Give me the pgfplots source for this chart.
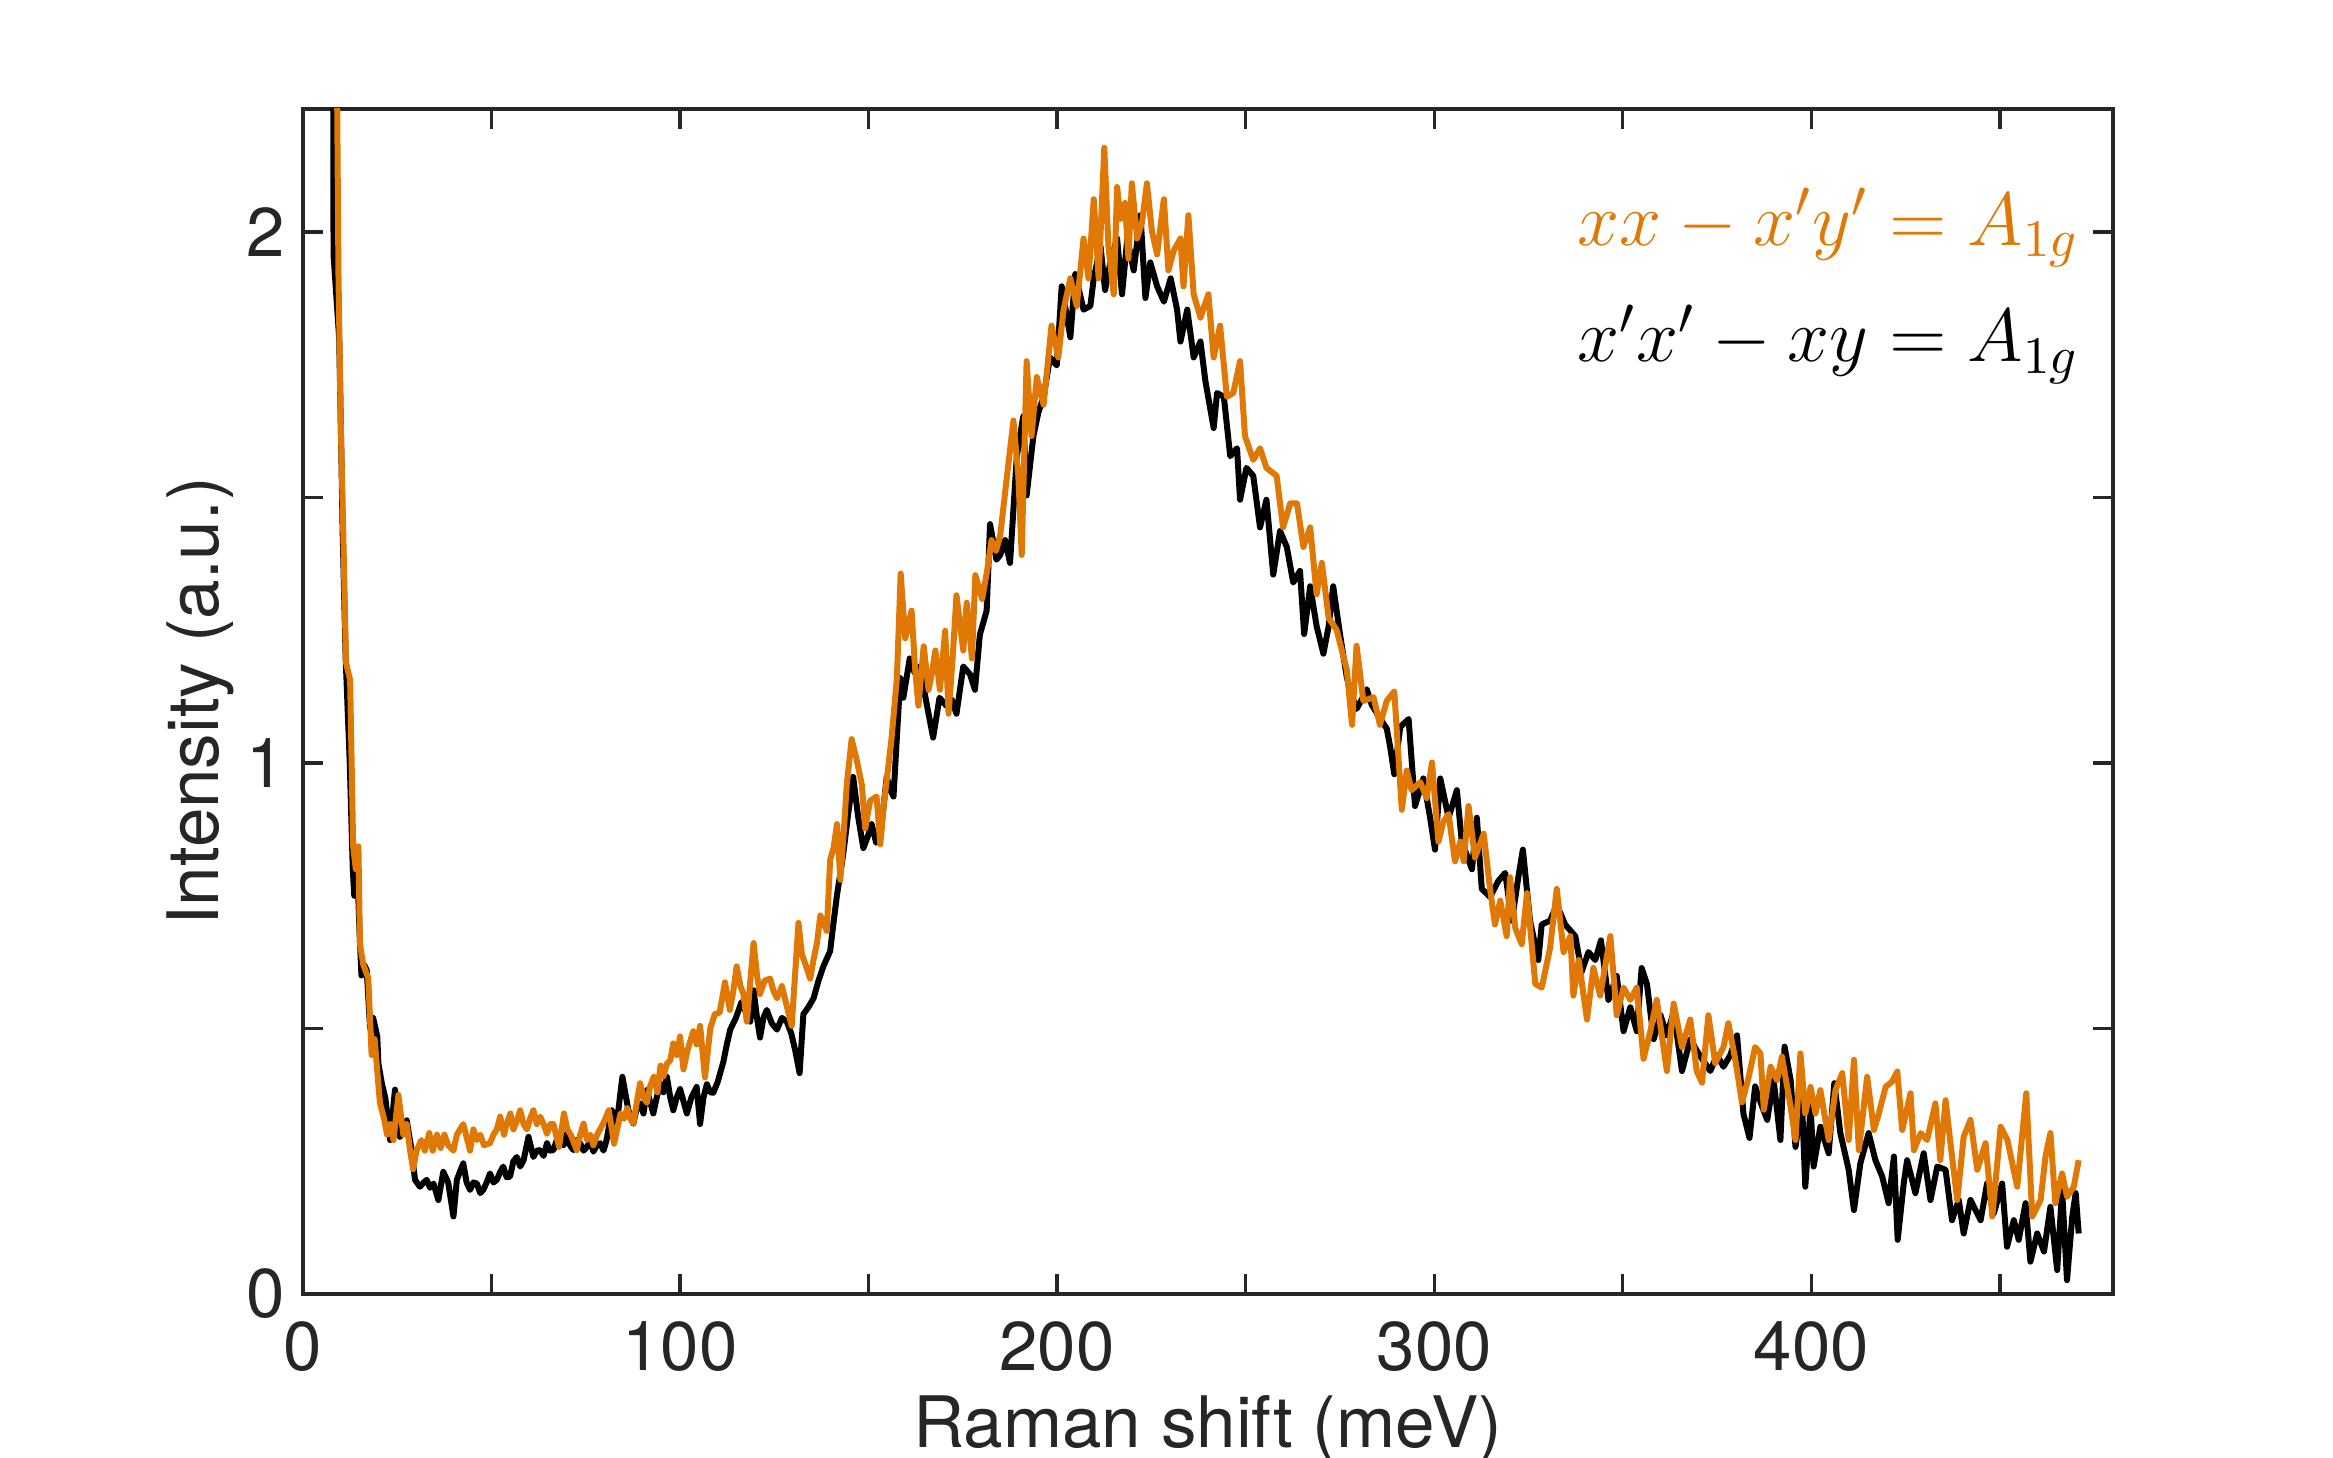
\RequirePackage{fix-cm}
\documentclass[border=0pt]{standalone}
\usepackage{fontspec}
\setmainfont{TeX Gyre Heros}
\usepackage{pgfplots}
\pgfplotsset{compat=1.18}
\definecolor{myorange}{RGB}{224,120,6}
\definecolor{axgray}{RGB}{38,38,38}
\begin{document}
\begin{tikzpicture}[x=1pt,y=1pt]
\path[use as bounding box] (0,0) rectangle (466.6,291.6);
\begin{axis}[
  at={(60.6pt,32.8pt)}, anchor=south west,
  scale only axis, width=362pt, height=237pt,
  xmin=0, xmax=480, ymin=0, ymax=2.232,
  xtick={0,50,...,450}, xticklabels={0,,100,,200,,300,,400,},
  ytick={0,0.5,1,1.5,2}, yticklabels={0,,1,,2},
  tick align=inside, tick pos=both, major tick length=4pt,
  tick style={axgray, line width=0.67pt},
  axis line style={axgray, line width=0.67pt},
  /pgf/number format/assume math mode=true,
  ticklabel style={font=\fontsize{13.8}{16}\selectfont, text=axgray},
  xticklabel style={yshift=-2pt},
  every axis x label/.style={at={(axis description cs:0.5,0)}, yshift=-30.8pt, anchor=base},
  every axis y label/.style={at={(axis description cs:0,0.5)}, xshift=-16.8pt, rotate=90, anchor=base},
  label style={font=\fontsize{14.2}{16}\selectfont, text=axgray},
  xlabel={Raman shift (meV)},
  ylabel={Intensity (a.u.)},
  clip=true,
]
\addplot[black, line width=1.2pt, line join=round] coordinates {
(7.9,2.7)(8.1,1.957)(9.6,1.80)(10.2,1.57)(10.5,1.44)(11.3,1.20)(12.4,1.00)(13.2,0.80)(13.6,0.75)(14.5,0.78)
(15.0,0.68)(15.5,0.60)(16.2,0.62)(16.9,0.61)(17.8,0.50)(18.6,0.52)(19.7,0.485)(20.0,0.434)(20.9,0.397)(21.8,0.37)
(22.5,0.33)(23.1,0.290)(24.4,0.385)(25.7,0.296)(26.5,0.31)(27.5,0.327)(28.8,0.271)(29.7,0.215)(31.0,0.202)(32.0,0.21)
(32.8,0.215)(33.7,0.20)(34.6,0.208)(35.9,0.177)(37.2,0.230)(38.5,0.21)(39.9,0.146)(40.8,0.215)(41.6,0.23)(42.5,0.246)
(43.4,0.21)(44.3,0.196)(45.2,0.21)(46.1,0.208)(47.0,0.19)(47.8,0.196)(48.7,0.21)(49.6,0.227)(50.5,0.21)(51.4,0.215)
(52.3,0.23)(53.1,0.240)(54.0,0.22)(54.9,0.221)(55.8,0.25)(56.7,0.258)(57.6,0.24)(58.5,0.252)(59.8,0.296)(61.1,0.258)
(62.0,0.27)(62.9,0.271)(63.8,0.26)(64.7,0.284)(65.5,0.27)(66.4,0.271)(67.3,0.29)(68.2,0.284)(69.1,0.28)(70.0,0.302)
(70.8,0.28)(71.7,0.271)(72.6,0.29)(73.5,0.284)(74.4,0.27)(75.3,0.277)(76.2,0.29)(77.0,0.268)(77.9,0.28)(78.8,0.284)
(79.7,0.27)(80.5,0.290)(81.9,0.346)(83.2,0.321)(84.7,0.409)(86.3,0.346)(87.6,0.321)(88.5,0.35)(89.4,0.359)(90.3,0.34)
(91.2,0.384)(92.9,0.340)(93.8,0.37)(94.7,0.397)(95.6,0.38)(96.5,0.409)(97.4,0.37)(98.2,0.346)(99.1,0.37)(100.0,0.386)
(101.8,0.340)(103.0,0.37)(104.4,0.390)(105.3,0.32)(106.2,0.37)(107.1,0.395)(108.0,0.38)(108.8,0.379)(110.0,0.40)(111.5,0.438)
(112.4,0.47)(113.3,0.498)(114.8,0.52)(116.3,0.550)(117.5,0.53)(118.6,0.513)(119.5,0.572)(120.4,0.52)(121.2,0.483)(122.1,0.52)
(123.0,0.535)(124.3,0.51)(125.7,0.498)(127.0,0.52)(128.3,0.513)(129.5,0.49)(130.5,0.460)(131.7,0.416)(132.7,0.527)(134.0,0.54)
(135.4,0.557)(136.7,0.59)(138.0,0.617)(139.8,0.646)(140.7,0.70)(141.6,0.751)(143.2,0.825)(144.5,0.90)(145.9,0.974)(147.2,0.90)
(148.6,0.840)(149.7,0.86)(150.8,0.885)(152.0,0.85)(153.1,0.862)(154.8,0.974)(155.7,0.95)(156.6,0.937)(157.5,1.05)(158.4,1.160)
(159.2,1.123)(160.9,1.197)(162.2,1.17)(163.5,1.182)(165.3,1.115)(167.1,1.048)(168.8,1.123)(170.6,1.108)(172.0,1.12)(173.3,1.093)
(175.1,1.182)(176.9,1.167)(178.2,1.138)(179.5,1.242)(181.3,1.287)(182.2,1.450)(183.9,1.383)(184.9,1.392)(186.2,1.42)(187.5,1.377)
(189.3,1.578)(191.0,1.653)(191.9,1.504)(193.7,1.616)(195.0,1.66)(196.4,1.690)(198.1,1.764)(199.9,1.749)(201.2,1.898)(203.5,1.802)
(204.8,1.921)(207.0,1.854)(208.8,1.861)(209.7,1.913)(211.5,1.973)(212.7,1.891)(214.1,1.943)(215.9,1.988)(217.2,1.883)(218.6,1.988)
(220.3,1.928)(222.1,2.032)(223.4,1.876)(224.7,1.943)(226.5,1.898)(228.3,1.869)(230.1,1.913)(231.8,1.854)(232.7,1.794)(234.5,1.854)
(236.2,1.764)(238.0,1.794)(239.3,1.720)(241.5,1.631)(242.4,1.697)(244.2,1.690)(245.9,1.578)(247.7,1.593)(248.5,1.496)(250.2,1.556)
(252.0,1.541)(253.8,1.444)(255.5,1.496)(257.3,1.355)(259.1,1.437)(260.9,1.407)(262.6,1.340)(264.4,1.362)(265.5,1.243)(267.1,1.333)
(268.8,1.258)(270.6,1.206)(272.0,1.258)(273.2,1.333)(275.0,1.243)(276.8,1.162)(278.0,1.13)(279.4,1.102)(280.8,1.12)(282.1,1.139)
(283.4,1.11)(284.7,1.095)(286.0,1.08)(287.4,1.065)(288.3,1.031)(289.4,0.979)(291.0,1.068)(293.2,1.083)(294.9,0.919)(297.1,0.971)
(298.9,0.897)(300.2,0.837)(301.6,0.971)(303.8,0.897)(306.0,0.949)(307.3,0.852)(310.0,0.800)(311.3,0.897)(312.6,0.763)(314.8,0.748)
(317.0,0.778)(318.8,0.793)(320.6,0.703)(322.3,0.785)(323.5,0.837)(325.4,0.703)(327.6,0.629)(328.5,0.696)(330.7,0.703)(332.5,0.733)
(334.7,0.696)(337.4,0.674)(339.1,0.607)(340.9,0.644)(342.7,0.629)(344.2,0.666)(346.2,0.554)(348.4,0.599)(350.2,0.495)(352.0,0.540)
(353.7,0.495)(355.0,0.614)(356.4,0.584)(358.2,0.480)(360.0,0.525)(361.7,0.487)(363.5,0.532)(365.7,0.420)(367.9,0.480)(369.5,0.46)
(371.0,0.443)(373.2,0.420)(375.0,0.450)(376.7,0.428)(378.5,0.45)(380.3,0.487)(382.0,0.339)(383.6,0.294)(385.1,0.391)(386.9,0.354)
(388.3,0.328)(390.0,0.403)(391.8,0.290)(392.9,0.466)(394.5,0.403)(395.8,0.277)(397.5,0.365)(398.4,0.202)(399.8,0.353)(400.6,0.240)
(402.4,0.315)(404.6,0.265)(406.1,0.397)(407.7,0.303)(409.9,0.234)(411.3,0.158)(413.0,0.246)(415.2,0.303)(417.0,0.252)(418.8,0.221)
(420.5,0.171)(421.9,0.259)(422.9,0.102)(424.5,0.208)(425.4,0.252)(427.6,0.190)(429.8,0.265)(431.6,0.177)(433.4,0.240)(435.6,0.234)
(437.3,0.139)(439.1,0.177)(440.4,0.114)(442.2,0.177)(444.9,0.139)(446.6,0.208)(448.4,0.152)(450.6,0.208)(451.9,0.089)(453.7,0.139)
(455.0,0.102)(456.8,0.171)(458.1,0.061)(459.9,0.114)(461.7,0.080)(463.4,0.164)(465.2,0.045)(466.5,0.196)(467.8,0.026)(469.2,0.146)
(470.1,0.190)(470.9,0.114)
};
\addplot[myorange, line width=1.2pt, line join=round] coordinates {
(8.8,2.5)(9.4,1.925)(10.0,1.643)(10.7,1.427)(11.4,1.189)(12.5,1.157)(13.3,0.843)(14.0,0.80)(14.7,0.843)(15.1,0.659)
(16.0,0.62)(17.3,0.595)(18.2,0.45)(19.0,0.48)(20.4,0.36)(21.5,0.33)(22.3,0.30)(23.1,0.32)(24.0,0.29)(25.3,0.375)
(26.6,0.30)(27.5,0.32)(28.4,0.27)(29.2,0.235)(30.1,0.27)(31.4,0.29)(32.3,0.27)(33.5,0.303)(34.4,0.27)(35.5,0.30)
(36.5,0.275)(37.5,0.30)(38.5,0.28)(39.9,0.27)(40.8,0.30)(42.5,0.32)(44.3,0.27)(45.2,0.31)(46.1,0.29)(47.0,0.30)
(48.0,0.28)(49.6,0.284)(50.5,0.30)(51.4,0.31)(52.3,0.334)(53.3,0.30)(54.0,0.32)(55.0,0.34)(55.8,0.31)(56.7,0.325)
(57.6,0.346)(58.5,0.32)(59.4,0.31)(60.2,0.33)(61.1,0.346)(62.0,0.32)(62.9,0.334)(63.8,0.32)(64.7,0.302)(65.6,0.32)
(66.4,0.32)(67.9,0.277)(69.2,0.340)(70.1,0.31)(71.0,0.30)(72.6,0.271)(73.5,0.30)(74.4,0.321)(75.3,0.29)(76.2,0.30)
(77.0,0.28)(78.0,0.30)(79.6,0.321)(81.1,0.346)(82.5,0.283)(83.3,0.31)(84.2,0.340)(85.1,0.33)(86.0,0.35)(86.8,0.33)
(87.6,0.321)(88.5,0.36)(89.4,0.397)(90.3,0.37)(91.2,0.36)(92.0,0.39)(93.0,0.409)(94.0,0.38)(94.8,0.43)(95.6,0.41)
(96.5,0.434)(97.4,0.44)(98.2,0.472)(99.1,0.45)(100.0,0.485)(100.9,0.423)(102.0,0.46)(103.5,0.495)(104.4,0.47)(105.3,0.505)
(106.6,0.408)(108.0,0.50)(109.2,0.527)(110.5,0.53)(111.9,0.587)(113.2,0.535)(114.1,0.57)(115.0,0.617)(116.0,0.58)(116.8,0.565)
(117.7,0.513)(119.5,0.661)(120.4,0.60)(121.2,0.565)(122.4,0.59)(123.9,0.594)(124.8,0.57)(125.7,0.557)(127.0,0.58)(128.3,0.542)
(129.6,0.505)(130.5,0.602)(131.4,0.699)(132.3,0.64)(133.1,0.624)(134.5,0.594)(135.4,0.63)(136.3,0.661)(137.2,0.713)(138.9,0.684)
(139.8,0.818)(140.7,0.84)(141.6,0.885)(142.5,0.780)(143.4,0.87)(144.2,0.959)(145.5,1.045)(146.9,1.004)(148.2,0.959)(149.1,0.877)
(150.4,0.929)(152.1,0.937)(153.1,0.847)(154.0,0.92)(154.9,0.974)(156.1,1.048)(157.5,1.160)(158.5,1.357)(159.7,1.235)(160.5,1.26)
(161.4,1.287)(162.3,1.18)(163.2,1.108)(164.6,1.220)(165.9,1.138)(166.8,1.17)(167.7,1.212)(168.9,1.138)(170.3,1.249)(171.2,1.093)
(172.3,1.20)(173.3,1.316)(175.1,1.212)(176.0,1.302)(177.4,1.197)(178.3,1.354)(180.1,1.309)(181.4,1.361)(182.6,1.42)(183.8,1.40)
(184.9,1.429)(186.7,1.541)(188.4,1.645)(189.7,1.541)(190.6,1.392)(191.9,1.757)(193.2,1.616)(194.6,1.727)(196.4,1.675)(198.5,1.824)
(200.3,1.764)(201.7,1.854)(203.5,1.913)(205.2,1.861)(207.0,1.988)(208.3,1.913)(209.7,2.062)(211.0,1.913)(212.5,2.159)(213.6,1.973)
(215.0,1.883)(215.9,2.085)(216.8,2.025)(218.0,2.055)(218.9,1.950)(219.8,2.092)(221.2,1.988)(222.5,2.018)(223.8,2.092)(225.1,2.003)
(226.5,1.958)(228.3,2.062)(229.5,1.928)(230.9,1.965)(232.7,1.988)(233.5,1.898)(234.8,2.032)(236.2,1.883)(238.0,1.839)(240.1,1.883)
(241.5,1.764)(243.2,1.824)(245.0,1.690)(246.7,1.697)(248.5,1.757)(249.8,1.616)(252.0,1.571)(253.8,1.593)(255.5,1.556)(258.2,1.541)
(259.9,1.444)(261.8,1.489)(263.6,1.489)(265.3,1.407)(267.1,1.444)(268.8,1.318)(270.2,1.377)(272.0,1.273)(274.1,1.251)(276.8,1.176)
(278.2,1.072)(279.4,1.221)(281.2,1.117)(283.9,1.124)(285.6,1.072)(287.4,1.117)(289.4,1.135)(291.4,0.912)(292.7,0.986)(294.0,0.949)
(296.3,0.964)(298.0,0.934)(299.4,1.001)(301.1,0.852)(302.4,0.889)(303.8,0.904)(305.5,0.815)(306.9,0.852)(307.8,0.815)(309.1,0.919)
(310.8,0.822)(313.1,0.867)(314.8,0.763)(316.1,0.696)(317.5,0.741)(319.2,0.674)(320.1,0.785)(321.5,0.689)(323.2,0.659)(324.6,0.755)
(326.8,0.584)(328.5,0.577)(330.7,0.651)(332.5,0.763)(334.3,0.644)(336.1,0.674)(336.9,0.562)(338.3,0.629)(340.5,0.517)(342.2,0.614)
(344.0,0.562)(346.7,0.674)(348.4,0.525)(350.2,0.577)(352.0,0.554)(353.7,0.577)(355.5,0.443)(357.3,0.495)(359.0,0.554)(361.7,0.420)
(363.5,0.547)(365.7,0.465)(367.9,0.517)(369.6,0.420)(371.0,0.398)(372.7,0.525)(374.5,0.435)(376.7,0.465)(378.0,0.510)(379.8,0.443)
(381.6,0.361)(383.3,0.406)(385.1,0.465)(386.5,0.453)(387.4,0.347)(389.2,0.428)(390.9,0.403)(392.2,0.447)(394.5,0.353)(395.8,0.290)
(397.1,0.453)(398.4,0.340)(399.8,0.390)(401.1,0.340)(402.4,0.384)(404.6,0.290)(406.4,0.384)(408.2,0.416)(409.9,0.290)(411.3,0.441)
(412.6,0.271)(414.8,0.409)(416.6,0.309)(417.9,0.340)(419.7,0.390)(421.4,0.400)(422.8,0.419)(424.1,0.309)(426.3,0.378)(427.2,0.271)
(429.0,0.303)(430.7,0.290)(432.9,0.359)(434.2,0.252)(435.6,0.365)(437.3,0.259)(438.7,0.177)(440.4,0.296)(442.2,0.328)(444.0,0.234)
(446.2,0.284)(448.0,0.146)(450.2,0.315)(452.0,0.290)(454.6,0.202)(457.0,0.378)(458.6,0.146)(460.8,0.177)(462.1,0.259)(463.4,0.303)
(464.7,0.171)(466.5,0.227)(467.8,0.183)(469.6,0.202)(470.9,0.252)
};
\node[anchor=base east, inner sep=0pt, text=myorange, font=\fontsize{15.1}{18}\selectfont] at (rel axis cs:0.982,0.885) {$xx - x'y' = A_{1g}$};
\node[anchor=base east, inner sep=0pt, text=black, font=\fontsize{15.1}{18}\selectfont] at (rel axis cs:0.982,0.7865) {$x'x' - xy = A_{1g}$};
\end{axis}
\end{tikzpicture}
\end{document}
